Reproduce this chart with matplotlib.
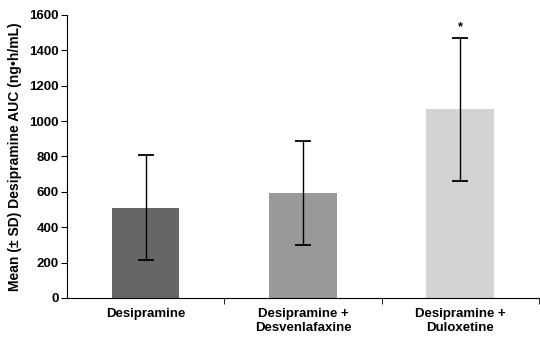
import matplotlib
matplotlib.use('Agg')
import matplotlib.pyplot as plt
import numpy as np

plt.rcParams['font.family'] = ['Liberation Sans', 'DejaVu Sans']
plt.rcParams['font.weight'] = 'bold'

groups = ['Desipramine', 'Desipramine +\nDesvenlafaxine', 'Desipramine +\nDuloxetine']
means = [511, 596, 1066]
sds = [298, 294, 403]
colors = ['#666666', '#999999', '#d3d3d3']
yticks = [0, 200, 400, 600, 800, 1000, 1200, 1400, 1600]

fig = plt.figure(figsize=(5.4, 3.39), dpi=100)
ax = fig.add_axes([0.124, 0.121, 0.874, 0.835])

x = np.arange(len(groups))
ax.bar(x, means, width=0.43, color=colors, zorder=1)
ax.errorbar(x, means, yerr=sds, fmt='none', ecolor='black', elinewidth=1,
            capsize=5.5, capthick=1.3, zorder=2)
ax.text(x[2], means[2] + sds[2] + 30, '*', ha='center', va='bottom', fontsize=9)

ax.set_xlim(-0.5, 2.5)
ax.set_ylim(0, 1600)
ax.set_yticks(yticks)
ax.set_yticklabels([str(v) for v in yticks], fontsize=9.5, fontweight='bold')
ax.set_xticks(x)
ax.set_xticklabels(groups, fontsize=9.5, fontweight='bold', linespacing=1.25)
ax.tick_params(axis='x', length=0, pad=7)
ax.set_xticks([0.5, 1.5, 2.5], minor=True)
ax.tick_params(axis='x', which='minor', length=4, direction='out')
ax.tick_params(axis='y', length=4, direction='out', pad=2)
ax.set_ylabel('Mean (\u00b1 SD) Desipramine AUC (ng\u2022h/mL)', fontsize=10, fontweight='bold', labelpad=5)

ax.spines['top'].set_visible(False)
ax.spines['right'].set_visible(False)

fig.savefig('out.png', dpi=100)
